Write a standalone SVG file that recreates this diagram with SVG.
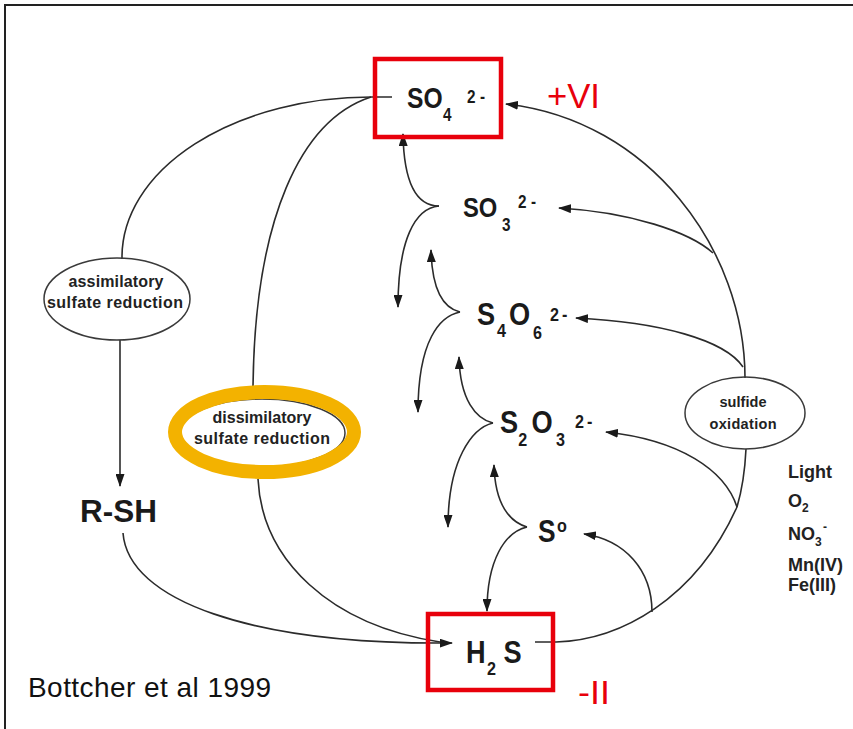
<svg xmlns="http://www.w3.org/2000/svg" width="853" height="729" viewBox="0 0 853 729">
<defs>
<marker id="ah" markerUnits="userSpaceOnUse" markerWidth="13" markerHeight="9" refX="12" refY="4.5" orient="auto">
<path d="M0,0 L13,4.5 L0,9 Z" fill="#1a1a1a"/>
</marker>
<style>
.ln{fill:none;stroke:#2b2b2b;stroke-width:1.6}
.arr{fill:none;stroke:#2b2b2b;stroke-width:1.6;marker-end:url(#ah)}
.box{fill:none;stroke:#E8000B;stroke-width:4.5}
.ox{fill:none;stroke:#3a3a3a;stroke-width:1.5}
.chem{font-family:"Liberation Sans",Arial,sans-serif;font-weight:bold;fill:#1a1a1a}
.lbl{font-family:"Liberation Sans",Arial,sans-serif;font-weight:bold;fill:#222;text-anchor:middle}
.side{font-family:"Liberation Sans",Arial,sans-serif;font-weight:bold;fill:#222;font-size:18px}
.red{font-family:"Liberation Sans",Arial,sans-serif;fill:#E8000B}
</style>
</defs>
<rect width="853" height="729" fill="#fff"/>
<path d="M5,729 V5 H853" fill="none" stroke="#222" stroke-width="2"/>

<g id="connectors">
<path class="ln" d="M392,97 H371 A249,160 0 0 0 122,257 V259"/>
<path class="ln" d="M371,97 C300,120 255,220 253,386"/>
<path class="arr" d="M120,340 V486"/>
<path class="arr" d="M123,533 C128,600 250,645 452,643"/>
<path class="ln" d="M258,479 C262,560 330,625 440,642"/>
<path class="arr" d="M439,206 C420,206 404,190 403,134"/>
<path class="arr" d="M439,206 C415,208 398,240 398,307"/>
<path class="arr" d="M460,312 C443,308 432,290 431,250"/>
<path class="arr" d="M460,312 C440,316 418,340 418,412"/>
<path class="arr" d="M493,423 C476,419 460,400 459,357"/>
<path class="arr" d="M493,423 C472,428 448,460 448,527"/>
<path class="arr" d="M527,527 C510,522 495,505 494,465"/>
<path class="arr" d="M527,527 C505,532 487,560 487,611"/>
<path class="ln" d="M535,642 H556 C620,640 695,600 737,507 C742,490 745,470 746,449"/>
<path class="arr" d="M652,612 C652,570 625,540 584,534"/>
<path class="arr" d="M737,507 C725,470 680,440 606,432"/>
<path class="arr" d="M745,378 C745,250 650,120 506,104"/>
<path class="arr" d="M713,253 C690,232 630,212 559,208"/>
<path class="arr" d="M743,367 C725,340 660,322 576,318"/>
</g>

<g id="so4">
<rect class="box" x="375" y="59" width="126" height="78"/>
<text class="chem" transform="translate(407,108) scale(0.85,1)"><tspan x="0" y="0" font-size="29">SO</tspan><tspan x="42.4" y="13" font-size="18">4</tspan><tspan x="70.6" y="-5" font-size="18">2</tspan><tspan x="85.9" y="-5" font-size="18">-</tspan></text>
</g>
<g id="vi"><text class="red" x="547" y="108" font-size="35" textLength="53" lengthAdjust="spacingAndGlyphs">+VI</text></g>

<g id="so3">
<text class="chem" transform="translate(463,217) scale(0.85,1)"><tspan x="0" y="0" font-size="28">SO</tspan><tspan x="45.9" y="14" font-size="18">3</tspan><tspan x="64.7" y="-9" font-size="18">2</tspan><tspan x="80" y="-9" font-size="18">-</tspan></text>
</g>

<g id="s4o6">
<text class="chem" transform="translate(477,325) scale(0.85,1)"><tspan x="0" y="0" font-size="32">S</tspan><tspan x="23.5" y="12" font-size="19">4</tspan><tspan x="37.6" y="0" font-size="32">O</tspan><tspan x="65.9" y="14" font-size="19">6</tspan><tspan x="85.9" y="-4" font-size="19">2</tspan><tspan x="100" y="-4" font-size="19">-</tspan></text>
</g>

<g id="s2o3">
<text class="chem" transform="translate(500,433) scale(0.85,1)"><tspan x="0" y="0" font-size="32">S</tspan><tspan x="21.5" y="13" font-size="19">2</tspan><tspan x="37" y="0" font-size="32">O</tspan><tspan x="66" y="13" font-size="19">3</tspan><tspan x="88.2" y="-5" font-size="19">2</tspan><tspan x="102.4" y="-5" font-size="19">-</tspan></text>
</g>

<g id="s0">
<text class="chem" transform="translate(538,542) scale(0.85,1)"><tspan x="0" y="0" font-size="31">S</tspan><tspan x="22.4" y="-10" font-size="19">o</tspan></text>
</g>

<g id="h2s">
<rect class="box" x="428" y="614" width="125" height="76"/>
<text class="chem" transform="translate(466,663) scale(0.85,1)"><tspan x="0" y="0" font-size="32">H</tspan><tspan x="24.7" y="12" font-size="19">2</tspan><tspan x="44" y="0" font-size="32">S</tspan></text>
</g>
<g id="ii"><text class="red" x="578" y="704" font-size="34" textLength="32" lengthAdjust="spacingAndGlyphs">-II</text></g>

<g id="assimilatory">
<ellipse class="ox" cx="117" cy="299" rx="73" ry="41" fill="#fff"/>
<text class="lbl" x="116" y="287" font-size="16" textLength="95">assimilatory</text>
<text class="lbl" x="115" y="308" font-size="16" textLength="136">sulfate reduction</text>
</g>

<g id="rsh"><text class="chem" x="80" y="522" font-size="32" textLength="77" lengthAdjust="spacingAndGlyphs">R-SH</text></g>

<g id="dissimilatory">
<ellipse class="ox" cx="262" cy="433" rx="83" ry="34" fill="#fff"/>
<ellipse cx="264.5" cy="432" rx="89.5" ry="40" fill="none" stroke="#F3B200" stroke-width="14"/>
<text class="lbl" x="262" y="423" font-size="16" textLength="99">dissimilatory</text>
<text class="lbl" x="262" y="444" font-size="16" textLength="136">sulfate reduction</text>
</g>

<g id="sulfide">
<ellipse class="ox" cx="745" cy="413" rx="60" ry="36" fill="#fff"/>
<text class="lbl" x="743" y="407" font-size="14.5" textLength="47">sulfide</text>
<text class="lbl" x="743" y="429" font-size="14.5" textLength="67">oxidation</text>
</g>

<g id="oxidants">
<text class="side" x="788" y="478">Light</text>
<text class="side" x="788" y="507">O<tspan x="802" y="512" font-size="12">2</tspan></text>
<text class="side" x="788" y="540">NO<tspan x="815" y="546" font-size="12">3</tspan><tspan x="823" y="531" font-size="12">-</tspan></text>
<text class="side" x="788" y="571">Mn(IV)</text>
<text class="side" x="788" y="591">Fe(III)</text>
</g>

<g id="citation"><text x="28" y="697" font-family="Liberation Sans,Arial,sans-serif" font-size="28" fill="#111" textLength="243">Bottcher et al 1999</text></g>
</svg>
